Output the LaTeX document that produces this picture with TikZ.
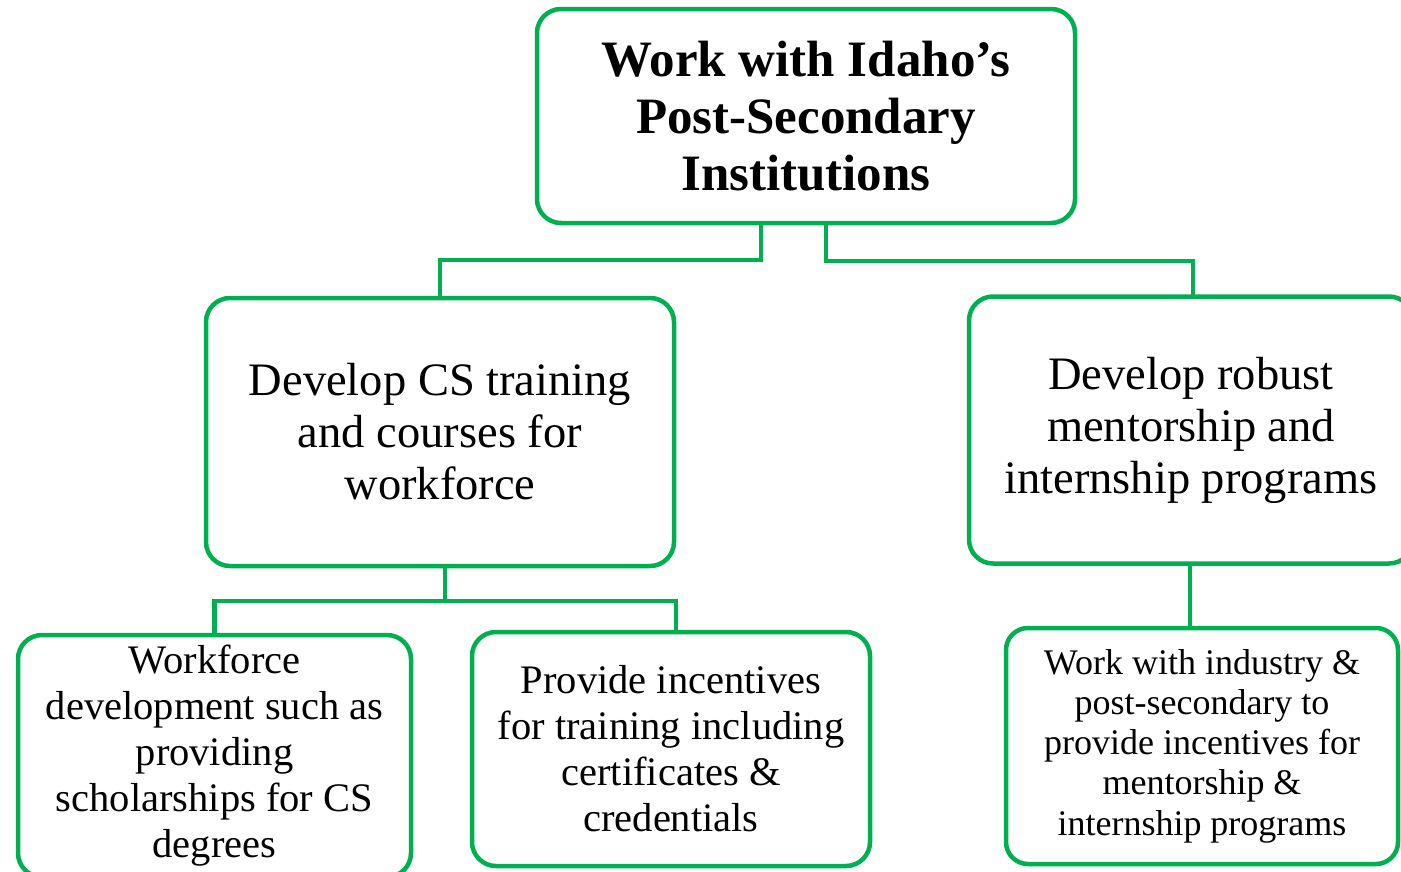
\documentclass[tikz,border=0pt]{standalone}
\usepackage{fontspec}
\setmainfont{Liberation Serif}
\definecolor{boxgreen}{RGB}{0,176,80}
\tikzset{
  box/.style={draw=boxgreen, line width=4.5pt, rounded corners=24pt, inner sep=0pt, outer sep=0pt, align=center, text=black},
  big/.style={font=\fontsize{46.5}{52}\selectfont},
  small/.style={font=\fontsize{40.5}{46}\selectfont},
  tiny/.style={font=\fontsize{36}{40.3}\selectfont},
  link/.style={draw=boxgreen, line width=4.5pt}
}
\begin{document}
\begin{tikzpicture}[x=1pt,y=-1pt]
\useasboundingbox (0,0) rectangle (1401,871);
\node[box, font=\fontsize{51}{57}\selectfont\bfseries, minimum width=538pt, minimum height=214pt] (top) at (806,116) {Work with Idaho’s\\Post-Secondary\\Institutions};
\node[box, big, minimum width=468pt, minimum height=268pt] (ml) at (440,432) {Develop CS training\\and courses for\\workforce};
\node[box, big, minimum width=444pt, minimum height=267pt] (mr) at (1191,430) {Develop robust\\mentorship and\\internship programs};
\node[box, small, minimum width=393pt, minimum height=242pt] (bl) at (214.5,756) {Workforce\\development such as\\providing\\scholarships for CS\\degrees};
\node[box, small, minimum width=398pt, minimum height=234pt] (bm) at (671,749) {Provide incentives\\for training including\\certificates \&\\credentials};
\node[box, tiny, minimum width=392pt, minimum height=236pt, rounded corners=22pt] (br) at (1202,746) {Work with industry \&\\post-secondary to\\provide incentives for\\mentorship \&\\internship programs};
\draw[link] ([xshift=-45pt]top.south) -- ++(0,-37pt) -| (ml.north);
\draw[link] ([xshift=20pt]top.south) -- ++(0,-38pt) -| ([xshift=2pt]mr.north);
\draw[link] ([xshift=5pt]ml.south) -- ++(0,-35pt) coordinate (j);
\draw[link] (bl.north) |- (j) -| ([xshift=5pt]bm.north);
\draw[link] ([xshift=-1pt]mr.south) -- ([xshift=-1pt]mr.south |- br.north);
\end{tikzpicture}
\end{document}
